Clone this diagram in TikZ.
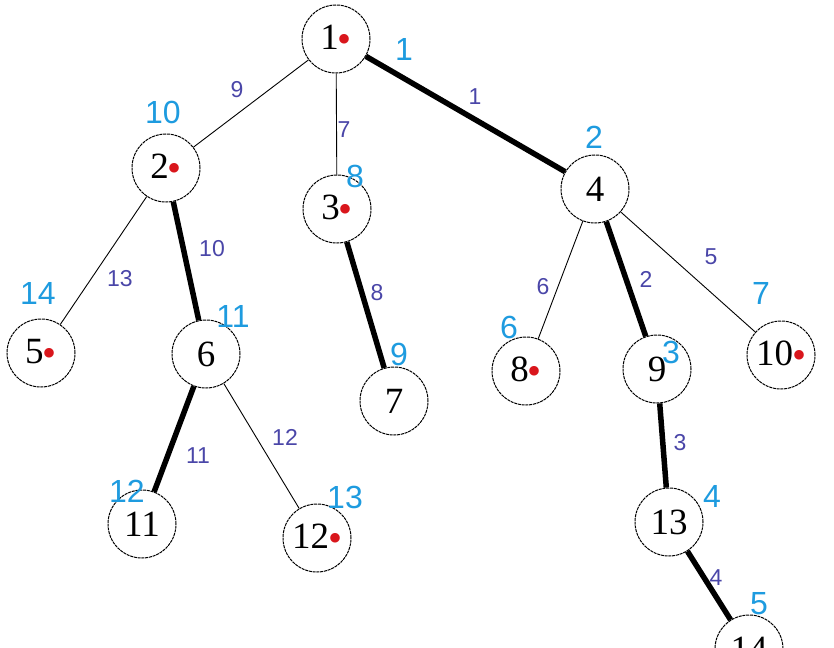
\documentclass[tikz,border=0pt]{standalone}
\usepackage{fontspec}
\setmainfont{Liberation Serif}
\newfontfamily\labelfont{Liberation Sans}
\usetikzlibrary{positioning}
\definecolor{ordblue}{HTML}{1E9BDF}
\definecolor{wtblue}{HTML}{4A46A8}
\definecolor{dotred}{HTML}{D9161C}
\newcommand{\rdot}{\kern-1pt\raisebox{-3pt}{\textcolor{dotred}{\fontsize{40}{40}\selectfont •}}}

\begin{document}
\begin{tikzpicture}[x=1pt,y=-1pt,
    vtx/.style={circle,draw=black,line width=1pt,dash pattern=on 3pt off 0.8pt,
      minimum size=68pt,inner sep=0pt,font=\fontsize{37}{37}\selectfont},
    light/.style={line width=0.9pt},
    heavy/.style={line width=5.5pt},
    wt/.style={text=wtblue,font=\labelfont\fontsize{23}{23}\selectfont},
    ord/.style={text=ordblue,font=\labelfont\fontsize{32}{32}\selectfont}]
  \useasboundingbox (0,0) rectangle (834,647);
  % vertices
  \node[vtx] (v1) at (336,39) {1\rdot};
  \node[vtx] (v2) at (166,168) {2\rdot};
  \node[vtx] (v3) at (337,209) {3\rdot};
  \node[vtx] (v4) at (595,189) {4};
  \node[vtx] (v5) at (41,353) {5\rdot};
  \node[vtx] (v6) at (206,354) {6};
  \node[vtx] (v7) at (394,401) {7};
  \node[vtx] (v8) at (526,371) {8\rdot};
  \node[vtx] (v9) at (657,369) {9};
  \node[vtx] (v10) at (781,355) {10\rdot};
  \node[vtx] (v11) at (142,524) {11};
  \node[vtx] (v12) at (317,538) {12\rdot};
  \node[vtx] (v13) at (669,522) {13};
  \node[vtx] (v14) at (749,649) {14};
  % edges
  \draw[light] (v1) -- (v2);
  \draw[light] (v1) -- (v3);
  \draw[heavy] (v1) -- (v4);
  \draw[light] (v2) -- (v5);
  \draw[heavy] (v2) -- (v6);
  \draw[heavy] (v3) -- (v7);
  \draw[light] (v4) -- (v8);
  \draw[heavy] (v4) -- (v9);
  \draw[light] (v4) -- (v10);
  \draw[heavy] (v6) -- (v11);
  \draw[light] (v6) -- (v12);
  \draw[heavy] (v9) -- (v13);
  \draw[heavy] (v13) -- (v14);
  % weights
  \node[wt] (w12) at (237,90) {9};
  \node[wt] (w13) at (344,130) {7};
  \node[wt] (w14) at (475,97) {1};
  \node[wt] (w25) at (120,279) {13};
  \node[wt] (w26) at (212,249) {10};
  \node[wt] (w37) at (377,293) {8};
  \node[wt] (w48) at (543,287) {6};
  \node[wt] (w49) at (646,279) {2};
  \node[wt] (w410) at (711,257) {5};
  \node[wt] (w611) at (198,456) {11};
  \node[wt] (w612) at (285,437) {12};
  \node[wt] (w913) at (680,443) {3};
  \node[wt] (w1314) at (716,578) {4};
  % visiting order
  \node[ord] (o1) at (404,49) {1};
  \node[ord] (o2) at (163,112) {10};
  \node[ord] (o3) at (355,176) {8};
  \node[ord] (o4) at (594,137) {2};
  \node[ord] (o5) at (38,293) {14};
  \node[ord] (o6) at (233,316) {11};
  \node[ord] (o7) at (399,354) {9};
  \node[ord] (o8) at (509,327) {6};
  \node[ord] (o9) at (671,352) {3};
  \node[ord] (o10) at (761,293) {7};
  \node[ord] (o11) at (127,491) {12};
  \node[ord] (o12) at (345,497) {13};
  \node[ord] (o13) at (712,496) {4};
  \node[ord] (o14) at (759,604) {5};
\end{tikzpicture}
\end{document}
